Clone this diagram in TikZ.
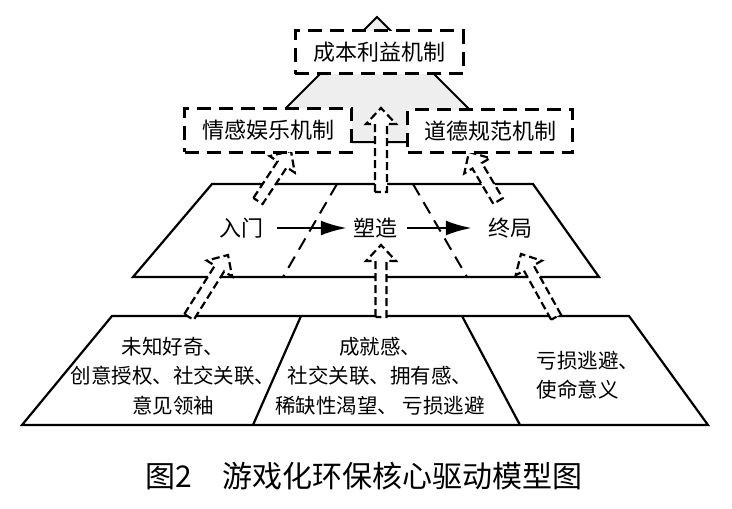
\documentclass[tikz,border=0pt]{standalone}
\usepackage{fontspec}
\setmainfont{Noto Sans CJK SC}
\usetikzlibrary{positioning,arrows.meta,calc}
\definecolor{pyramidgray}{HTML}{EEEEEE}

\tikzset{
  tierline/.style={line width=2.2pt, line join=miter},
  splitdash/.style={line width=2pt, dash pattern=on 13pt off 8pt},
  mechbox/.style={draw, fill=white, line width=3pt, dash pattern=on 14pt off 8pt,
    inner sep=0pt, font=\fontsize{22pt}{26pt}\selectfont},
  stagetext/.style={inner sep=2pt, font=\fontsize{22pt}{26pt}\selectfont},
  factortext/.style={inner sep=0pt, align=center, font=\fontsize{20.5pt}{29.5pt}\selectfont},
  flowarrow/.style={-{Latex[length=26pt,width=15pt]}, line width=2.5pt},
  liftarrow/.style={fill=white, draw, line width=2.2pt, dash pattern=on 8pt off 4pt, line join=miter}
}

% hollow dashed block arrow: tail, tip, shaft half width
\newcommand{\liftarrow}[3]{%
  \coordinate (hb) at ($(#2)!16pt!(#1)$);
  \filldraw[liftarrow] ($(#1)!#3!90:(#2)$) -- ($(hb)!#3!90:(#2)$) -- ($(hb)!15pt!90:(#2)$)
    -- (#2) -- ($(hb)!15pt!-90:(#2)$) -- ($(hb)!#3!-90:(#2)$) -- ($(#1)!#3!-90:(#2)$) -- cycle;}

\begin{document}
\begin{tikzpicture}[x=1pt,y=-1pt]
\useasboundingbox (0,0) rectangle (732,509);

% top of the pyramid
\filldraw[fill=pyramidgray, line width=2pt] (377,17) -- (502,142) -- (252,142) -- cycle;

% middle tier
\coordinate (m1) at (212,184);
\coordinate (m2) at (533,184);
\coordinate (m3) at (599,277);
\coordinate (m4) at (133,277);
\draw[tierline] (m1) -- (m2) -- (m3) -- (m4) -- cycle;
\draw[splitdash] (337,184) -- (283,277);
\draw[splitdash] (413,184) -- (467,277);

% bottom tier
\coordinate (b1) at (112,316);
\coordinate (b2) at (629,316);
\coordinate (b3) at (708,425);
\coordinate (b4) at (22,425);
\draw[tierline] (b1) -- (b2) -- (b3) -- (b4) -- cycle;
\draw[tierline] (301,316) -- (253,425);
\draw[tierline] (462,316) -- (520,425);

% stages
\node[stagetext] (entry) at (241,228) {入门};
\node[stagetext] (shaping) at (375,228) {塑造};
\node[stagetext] (ending) at (510,228) {终局};
\draw[flowarrow] ([xshift=12pt]entry.east) -- ([xshift=-4pt]shaping.west);
\draw[flowarrow] ([xshift=8pt]shaping.east) -- ([xshift=-14pt]ending.west);

% drivers
\node[factortext] (basic) at (173,376) {未知好奇、\\创意授权、社交关联、\\意见领袖};
\node[factortext] (core) at (380,376) {成就感、\\社交关联、拥有感、\\稀缺性渴望、 亏损逃避};
\node[factortext, align=left] (deep) at (588,375) {亏损逃避、\\使命意义};

% lifts
\coordinate (t1) at (189,317);
\coordinate (h1) at (228,255);
\coordinate (t2) at (381,317);
\coordinate (h2) at (381,245);
\coordinate (t3) at (556,317);
\coordinate (h3) at (521,254);
\coordinate (t4) at (258,201);
\coordinate (h4) at (291,151);
\coordinate (t5) at (381,192);
\coordinate (h5) at (381,108);
\coordinate (t6) at (498,201);
\coordinate (h6) at (469,152);
\liftarrow{t1}{h1}{5.5pt}
\liftarrow{t2}{h2}{5.5pt}
\liftarrow{t3}{h3}{5.5pt}
\liftarrow{t4}{h4}{5.5pt}
\liftarrow{t5}{h5}{6pt}
\liftarrow{t6}{h6}{5.5pt}

% mechanisms
\node[mechbox, minimum width=168pt, minimum height=43pt] (cost) at (379,52) {成本利益机制};
\node[mechbox, minimum width=167pt, minimum height=44pt] (emotion) at (268,130) {情感娱乐机制};
\node[mechbox, minimum width=165pt, minimum height=43pt] (moral) at (490,131) {道德规范机制};

\node (caption) at (364,476) {\fontsize{30pt}{34pt}\selectfont 图2\hspace{30pt}游戏化环保核心驱动模型图};
\end{tikzpicture}
\end{document}
